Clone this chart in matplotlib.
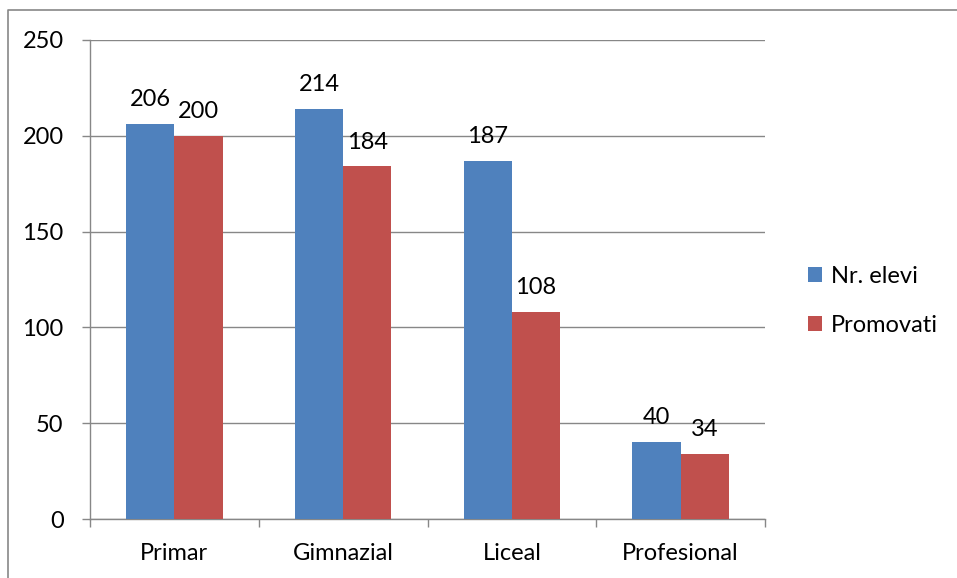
import matplotlib.pyplot as plt
from matplotlib.lines import Line2D
import numpy as np

plt.rcParams['font.family'] = ['Lato', 'DejaVu Sans']

categories = ['Primar', 'Gimnazial', 'Liceal', 'Profesional']
nr_elevi = [206, 214, 187, 40]
promovati = [200, 184, 108, 34]
series_names = ['Nr. elevi', 'Promovati']

blue = '#4F81BD'
red = '#C0504D'
grey = '#878787'

fig = plt.figure(figsize=(9.57, 5.78), dpi=100)
ax = fig.add_axes([90/957, 1 - 519/578, (765 - 90)/957, (519 - 40)/578])

x = np.arange(len(categories))
w = 1 / 3.5
b1 = ax.bar(x - w/2, nr_elevi, w, color=blue, label=series_names[0], zorder=3)
b2 = ax.bar(x + w/2, promovati, w, color=red, label=series_names[1], zorder=3)
ax.bar_label(b1, padding=10, fontsize=17)
ax.bar_label(b2, padding=10, fontsize=17)

ax.set_xlim(-0.5, len(categories) - 0.5)
ax.set_ylim(0, 250)
ax.set_yticks(range(0, 251, 50))
ax.yaxis.grid(True, color=grey, linewidth=1.0, zorder=0)

ax.set_xticks(x)
ax.set_xticklabels(categories)
ax.set_xticks(np.arange(-0.5, len(categories), 1), minor=True)
ax.tick_params(axis='x', which='major', length=0, pad=17, labelsize=17)
ax.tick_params(axis='x', which='minor', length=6, width=1.0, color=grey)
ax.tick_params(axis='y', length=6, width=1.0, color=grey, pad=13, labelsize=17)

for s in ['top', 'right']:
    ax.spines[s].set_visible(False)
for s in ['left', 'bottom']:
    ax.spines[s].set_color(grey)
    ax.spines[s].set_linewidth(1.0)

fig.legend(loc='center left', bbox_to_anchor=(787/957, 1 - 301/578), frameon=False,
           fontsize=17, handlelength=0.6, handleheight=0.6, handletextpad=0.35,
           labelspacing=1.2)

# outer chart border (left and top only are visible)
fig.add_artist(Line2D([8/957, 8/957, 1.0], [0.0, 1 - 10/578, 1 - 10/578],
                      transform=fig.transFigure, color=grey, linewidth=1.2))

fig.savefig('out.png', dpi=100)
